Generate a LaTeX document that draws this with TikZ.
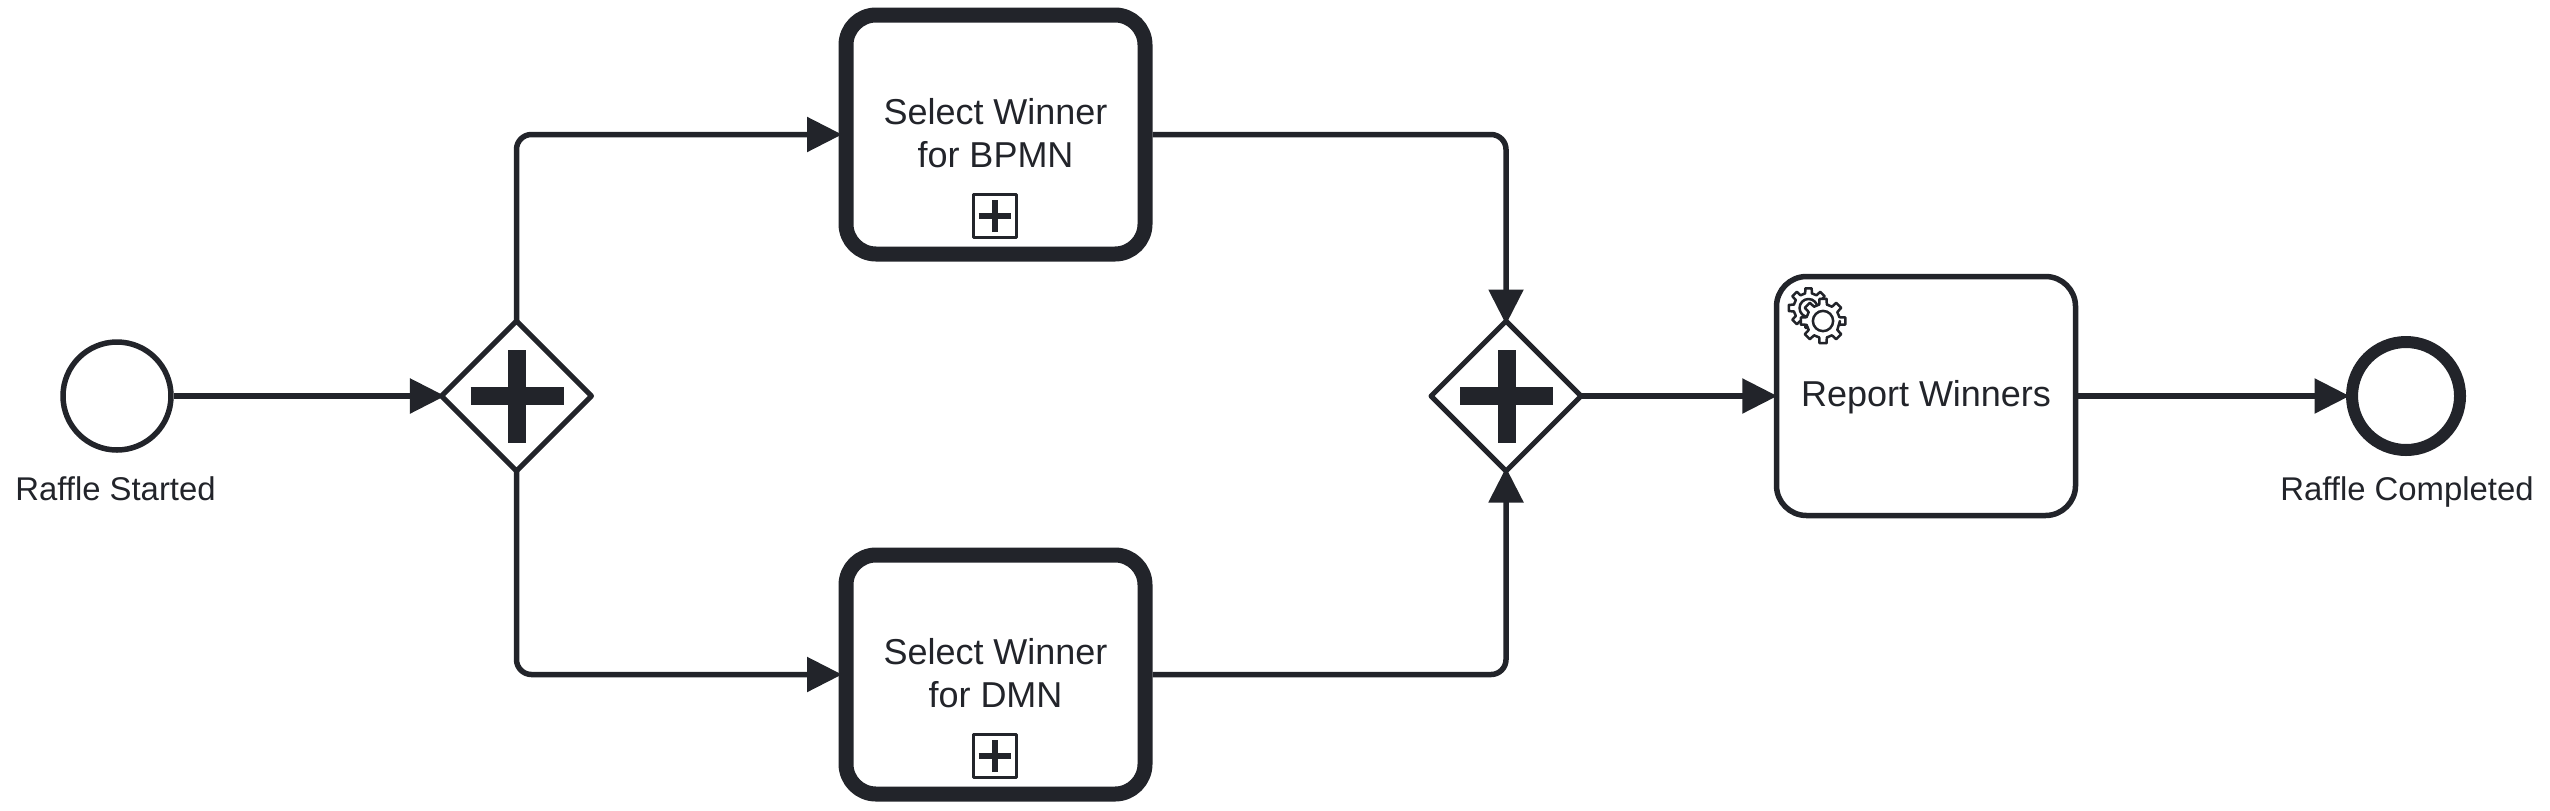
\documentclass[tikz,border=0pt]{standalone}
\usepackage{fontspec}
\setmainfont{Liberation Sans}
\usepackage{tikz}
\usetikzlibrary{arrows.meta, shapes.geometric}

\definecolor{bpmnink}{HTML}{22242A}

\tikzset{
  base/.style = {draw=bpmnink, text=bpmnink, fill=white, inner sep=0pt, line join=round},
  task/.style = {base, rectangle, rounded corners=.3cm, align=center, minimum width=2.99cm,
    minimum height=2.39cm, line width=.055cm, font=\fontsize{10.24}{12.4}\selectfont},
  subtask/.style = {task, line width=.15cm},
  event/.style = {base, circle, minimum size=1.08cm, line width=.055cm},
  endevent/.style = {event, line width=.12cm},
  gateway/.style = {base, diamond, minimum width=1.5cm, minimum height=1.5cm, line width=.05cm, outer sep=0pt},
  marker/.style = {base, rectangle, minimum size=.43cm, line width=.03cm},
  eventlabel/.style = {anchor=base, inner sep=0pt, text=bpmnink, font=\fontsize{9.35}{11}\selectfont},
  flow/.style = {draw=bpmnink, line width=.055cm, rounded corners=.15cm, ->, shorten >=-.035cm},
  gear/.style = {draw=bpmnink, fill=white, line width=.025cm, line join=round}
}

\newcommand{\gearwheel}[3]{
  \draw [gear, shift={(#1,#2)}] (0:#3*.75)
    \foreach \a in {0,45,...,315} {
      -- (\a-13:#3*.75) -- (\a-9:#3) -- (\a+9:#3) -- (\a+13:#3*.75)
    } -- cycle;
  \draw [gear] (#1,#2) circle [radius=#3*.45];
}

\newcommand{\plussign}[4]{
  \draw [draw=bpmnink, line width=#4] (#1,#2) +(-#3,0) -- +(#3,0);
  \draw [draw=bpmnink, line width=#4] (#1,#2) +(0,-#3) -- +(0,#3);
}

\begin{document}
\begin{tikzpicture}[>={Triangle[length=.35cm,width=.34cm]}]
  \useasboundingbox (0,0) rectangle (25.5,8.1);

  \node (started) at (1.17,4.14) [event] {};
  \node (startedlabel) at (1.155,3.10) [eventlabel] {Raffle Started};
  \node (split) at (5.165,4.14) [gateway] {};
  \node (bpmnwinner) at (9.955,6.755) [subtask] {Select Winner\\for BPMN\rule[-.035cm]{0pt}{.035cm}};
  \node (dmnwinner) at (9.955,1.355) [subtask] {Select Winner\\for DMN\rule[-.035cm]{0pt}{.035cm}};
  \node (merge) at (15.06,4.14) [gateway] {};
  \node (report) at (19.26,4.14) [task, text height=.27cm, text depth=.07cm] {Report Winners};
  \node (completed) at (24.06,4.14) [endevent] {};
  \node (completedlabel) at (24.07,3.10) [eventlabel] {Raffle Completed};

  \node (bpmnmarker) at (9.945,5.94) [marker] {};
  \node (dmnmarker) at (9.945,.54) [marker] {};

  \plussign{5.17}{4.14}{.465}{.18cm}
  \plussign{15.065}{4.14}{.465}{.18cm}
  \plussign{9.945}{5.94}{.16}{.06cm}
  \plussign{9.945}{.54}{.16}{.06cm}

  \gearwheel{18.085}{5.02}{.2}
  \gearwheel{18.23}{4.89}{.225}

  \draw [flow] (started) -- (split);
  \draw [flow] (split.north) |- (bpmnwinner.west);
  \draw [flow] (split.south) |- (dmnwinner.west);
  \draw [flow] (bpmnwinner.east) -| (merge.north);
  \draw [flow] (dmnwinner.east) -| (merge.south);
  \draw [flow] (merge) -- (report);
  \draw [flow] (report) -- (completed);
\end{tikzpicture}
\end{document}
